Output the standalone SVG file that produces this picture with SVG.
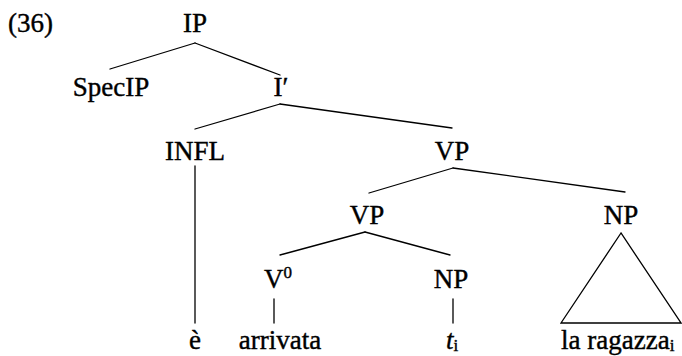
<svg xmlns="http://www.w3.org/2000/svg" width="682" height="356" viewBox="0 0 682 356">
  <style>
    text { font-family: "Liberation Serif", "Times New Roman", serif; font-size: 27px; fill: #000; stroke: #000; stroke-width: 0.4; }
    .c { text-anchor: middle; }
    .sm { font-size: 17px; }
    line, polygon { stroke: #000; stroke-width: 1.3; fill: none; stroke-linecap: round; }
  </style>

  <text id="exnum" x="8" y="32">(36)</text>

  <!-- branches -->
  <g id="connectors">
    <line x1="195" y1="43" x2="110" y2="69"/>
    <line x1="195" y1="43" x2="280" y2="75"/>
    <line x1="280" y1="104" x2="195" y2="129"/>
    <line x1="280" y1="104" x2="452" y2="128"/>
    <line x1="195" y1="166" x2="195" y2="323"/>
    <line x1="453" y1="168" x2="369" y2="193"/>
    <line x1="453" y1="168" x2="625" y2="192"/>
    <line x1="365" y1="232" x2="280" y2="255"/>
    <line x1="365" y1="232" x2="450" y2="255"/>
    <line x1="274" y1="299" x2="274" y2="323"/>
    <line x1="453" y1="299" x2="453" y2="323"/>
    <polygon points="621,233 561,323 681,323"/>
  </g>

  <!-- categories -->
  <g id="n-ip"><text class="c" x="195" y="32">IP</text></g>
  <g id="n-specip"><text class="c" x="111" y="96">SpecIP</text></g>
  <g id="n-ibar"><text class="c" x="281" y="96">I′</text></g>
  <g id="n-infl"><text class="c" x="195" y="160">INFL</text></g>
  <g id="n-vp1"><text class="c" x="452" y="160">VP</text></g>
  <g id="n-vp2"><text class="c" x="367" y="224">VP</text></g>
  <g id="n-np1"><text class="c" x="621" y="224">NP</text></g>
  <g id="n-v0"><text x="264" y="288">V<tspan class="sm" dy="-10">0</tspan></text></g>
  <g id="n-np2"><text class="c" x="451" y="288">NP</text></g>

  <!-- terminals -->
  <g id="w-e"><text class="c" x="195" y="349">è</text></g>
  <g id="w-arrivata"><text class="c" x="280" y="349">arrivata</text></g>
  <g id="w-trace"><text x="446" y="349"><tspan font-style="italic">t</tspan><tspan class="sm" dy="2">i</tspan></text></g>
  <g id="w-ragazza"><text x="561" y="349">la ragazza<tspan class="sm" dy="2">i</tspan></text></g>
</svg>
